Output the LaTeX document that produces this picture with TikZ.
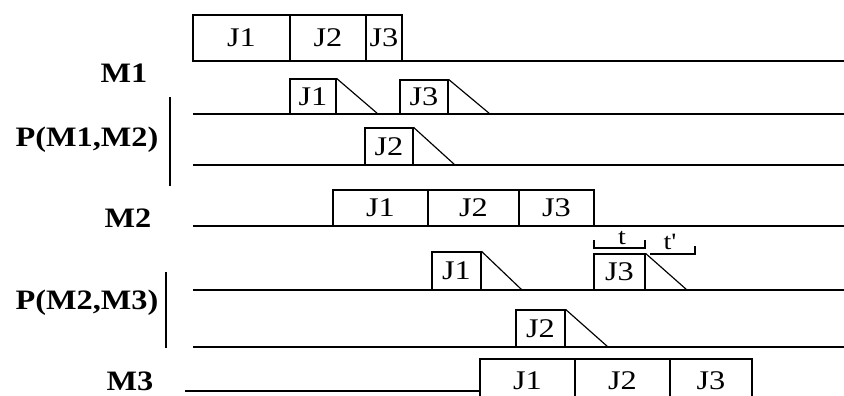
\documentclass[tikz,border=0pt]{standalone}
\usepackage{fontspec}
\setmainfont{Liberation Serif}
\newfontfamily\widefont[FakeStretch=1.2]{Liberation Serif}
\newfontfamily\lblfont[FakeStretch=1.15]{Liberation Serif}
\usetikzlibrary{fit}
\tikzset{
  jobbox/.style={draw,line width=1pt,inner sep=0pt},
  jobtext/.style={font=\widefont\fontsize{23}{23}\selectfont,inner sep=0pt},
  lane/.style={line width=1pt},
  mlabel/.style={font=\lblfont\bfseries\fontsize{24}{24}\selectfont},
  tlabel/.style={font=\widefont\fontsize{20}{20}\selectfont,inner sep=0pt}
}

\begin{document}
\begin{tikzpicture}[x=0.03cm,y=-0.03cm]
\useasboundingbox (0,0) rectangle (844,396);
% row labels
\node[mlabel] (lm1) at (124,73) {M1};
\node[mlabel] (lp12) at (87,140) {P(M1,M2)};
\node[mlabel] (lm2) at (128,218) {M2};
\node[mlabel] (lp23) at (87,303) {P(M2,M3)};
\node[mlabel] (lm3) at (130,381) {M3};
\draw[lane] (170,97) -- (170,186);
\draw[lane] (166,272) -- (166,348);
% time lines
\draw[lane] (193,61) -- (844,61);
\draw[lane] (193,114) -- (844,114);
\draw[lane] (193,165) -- (844,165);
\draw[lane] (193,226) -- (844,226);
\draw[lane] (193,290) -- (844,290);
\draw[lane] (193,347) -- (844,347);
\draw[lane] (185,391) -- (480,391);
% machines
\foreach \n/\a/\b in {1/193/290,2/290/366,3/366/402}
  \node[jobbox,fit={(\a,15)(\b,61)},label={[jobtext]center:J\n}] (m1j\n) {};
\foreach \n/\a/\b in {1/333/428,2/428/519,3/519/594}
  \node[jobbox,fit={(\a,190)(\b,226)},label={[jobtext]center:J\n}] (m2j\n) {};
\foreach \n/\a/\b in {1/480/575,2/575/670,3/670/752}
  \node[jobbox,fit={(\a,359)(\b,402)},label={[jobtext]center:J\n}] (m3j\n) {};
% buffers
\foreach \nm/\t/\a/\b/\u/\v/\e in {p1j1/J1/290/336/79/114/378,p1j3/J3/400/448/80/114/490,
    p1j2/J2/365/413/128/165/455,p2j1/J1/432/481/252/290/522,
    p2j3/J3/594/645/254/290/687,p2j2/J2/516/565/310/347/608} {
  \node[jobbox,fit={(\a,\u)(\b,\v)},label={[jobtext]center:\t}] (\nm) {};
  \draw[lane] (\nm.north east) -- (\e,\v);
}
% t and t'
\draw[lane] (594,240) |- (645,248) -- (645,240);
\draw[lane] (650,254) -| (695,246);
\node[tlabel] (tt) at (622,238) {t};
\node[tlabel] (tt2) at (670,242) {t'};
\end{tikzpicture}
\end{document}
